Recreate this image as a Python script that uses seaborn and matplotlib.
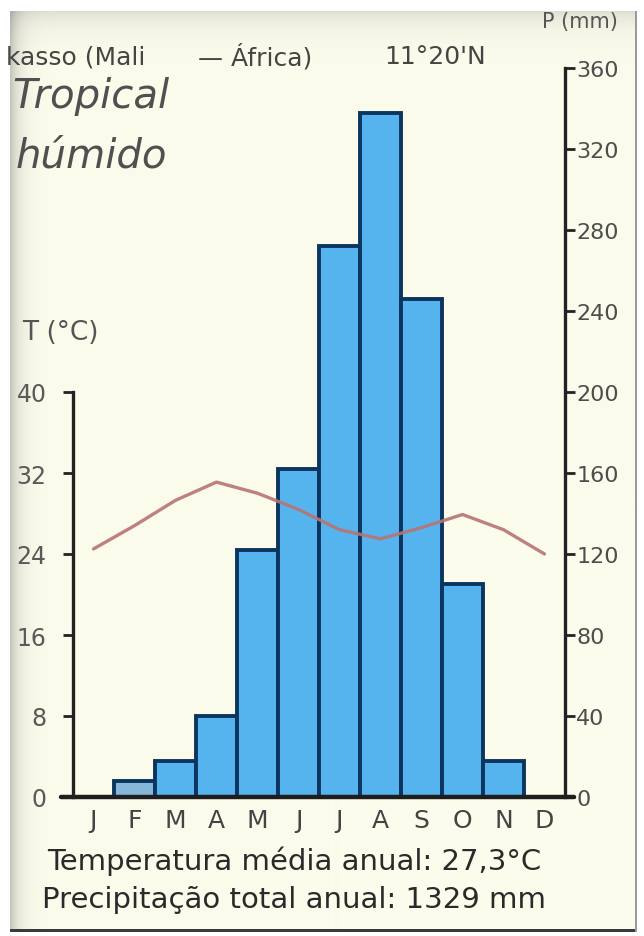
import numpy as np
import pandas as pd
import matplotlib
matplotlib.use("Agg")
import matplotlib.pyplot as plt
import matplotlib.patches as mpatches
import seaborn as sns

# ---------------- data ----------------
months = ["Jan", "Fev", "Mar", "Abr", "Mai", "Jun", "Jul", "Ago", "Set", "Out", "Nov", "Dez"]
month_letters = ["J", "F", "M", "A", "M", "J", "J", "A", "S", "O", "N", "D"]
precip_mm = [0, 8, 18, 40, 122, 162, 272, 338, 246, 105, 18, 0]
temp_c = [24.5, 26.8, 29.3, 31.1, 30.0, 28.4, 26.4, 25.5, 26.6, 27.9, 26.4, 24.0]
temp_ticks = [0, 8, 16, 24, 32, 40]
precip_ticks = [0, 40, 80, 120, 160, 200, 240, 280, 320, 360]

title_parts = ["kasso (Mali", "— África)", "11°20'N"]
climate_lines = ["Tropical", "húmido"]
footer_lines = ["Temperatura média anual: 27,3°C", "Precipitação total anual: 1329 mm"]

# ---------------- style ----------------
sns.set_theme(style="white")
plt.rcParams["font.family"] = ["DejaVu Sans"]

W, H = 644, 937
fig = plt.figure(figsize=(W / 100, H / 100), dpi=100)
fig.patch.set_facecolor("white")

# background panel (cream card with shaded edges)
bg = fig.add_axes([0, 0, 1, 1], zorder=-10)
bg.set_xlim(0, W)
bg.set_ylim(H, 0)
bg.axis("off")
px0, px1, py0, py1 = 10, 637, 12, 933
gw, gh = px1 - px0, py1 - py0
xx = np.arange(gw)[None, :]
yy = np.arange(gh)[:, None]
shade = np.clip(0.42 * np.exp(-xx / 9.0) + 0.22 * np.exp(-yy / 14.0), 0, 0.6)
base = np.array([252, 252, 236]) / 255.0
grey = np.array([120, 120, 120]) / 255.0
img = base[None, None, :] * (1 - shade[..., None]) + grey[None, None, :] * shade[..., None]
bg.imshow(img, extent=(px0, px1, py1, py0), aspect="auto", interpolation="bilinear")
bg.add_patch(mpatches.Rectangle((px0, py1 - 3), gw, 3, color="#3a3a3a", lw=0))
bg.add_patch(mpatches.Rectangle((px1 - 2, py0), 2, gh, color="#9a9a9a", lw=0))

# ---------------- main axes ----------------
left, right = 73 / W, 565 / W
base_y = 798
px_per_mm = 2.025
ymax_mm = 370
bottom = (H - base_y) / H
height = ymax_mm * px_per_mm / H
ax = fig.add_axes([left, bottom, right - left, height])
ax.patch.set_visible(False)
ax2 = ax.twinx()
ax2.patch.set_visible(False)

df = pd.DataFrame({"month": months, "precip": precip_mm})
bar_colors = ["#55b4ee"] * 12
bar_colors[1] = "#86b6d8"
sns.barplot(data=df, x="month", y="precip", hue="month", palette=bar_colors,
            legend=False, width=1.0, edgecolor="#0b355f", linewidth=2.8,
            saturation=1, ax=ax, zorder=2)
ax.set_xlim(-0.5, 11.5)
ax.set_ylim(0, ymax_mm)
ax.set_xlabel("")
ax.set_ylabel("")
for s in ["top", "left", "bottom"]:
    ax.spines[s].set_visible(False)
ax.spines["right"].set_visible(True)
ax.spines["right"].set_bounds(0, 360)
ax.spines["right"].set_linewidth(2.4)
ax.spines["right"].set_color("#222222")
ax.set_xticks(range(12))
ax.set_xticklabels(month_letters)
ax.tick_params(axis="x", length=0, labelsize=18, labelcolor="#444444", pad=8)
ax.axhline(0, xmin=-0.025, xmax=1.018, color="#1e1e1e", lw=3.2, clip_on=False, zorder=5)

# temperature line
sns.lineplot(x=np.arange(12), y=temp_c, ax=ax2, color="#b87474", linewidth=2.4,
             alpha=0.9, zorder=6)
ax2.set_xlim(-0.5, 11.5)
ax2.set_ylim(0, ymax_mm / 5.0)
for s in ["top", "right", "bottom"]:
    ax2.spines[s].set_visible(False)
ax2.spines["left"].set_visible(True)
ax2.spines["left"].set_bounds(0, 40)
ax2.spines["left"].set_linewidth(2.4)
ax2.spines["left"].set_color("#222222")
ax2.set_ylabel("")

# tick sides (set after twinx)
ax.yaxis.tick_right()
ax.set_yticks(precip_ticks)
ax.set_yticklabels([str(v) for v in precip_ticks])
ax.tick_params(axis="y", which="both", left=False, right=True, labelleft=False,
               labelright=True, direction="out", length=7, width=2,
               color="#222222", labelsize=16, labelcolor="#4d4d4d", pad=1)
ax2.yaxis.tick_left()
ax2.set_yticks(temp_ticks)
ax2.set_yticklabels([str(v) for v in temp_ticks])
ax2.tick_params(axis="y", which="both", left=True, right=False, labelleft=True,
                labelright=False, direction="out", length=7, width=2,
                color="#222222", labelsize=17, labelcolor="#5a5a5a", pad=12)

# ---------------- texts ----------------
tkw = dict(color="#454545", va="center", ha="left", fontsize=18)
bg.text(6, 57, title_parts[0], **tkw)
bg.text(198, 57, title_parts[1], **tkw)
bg.text(384, 57, title_parts[2], **tkw)

bg.text(12, 96, climate_lines[0], fontsize=29, style="italic", color="#505050",
        va="center", ha="left")
bg.text(16, 156, climate_lines[1], fontsize=29, style="italic", color="#505050",
        va="center", ha="left")

bg.text(22, 333, "T (°C)", fontsize=19, color="#555555", va="center", ha="left")
bg.text(580, 22, "P (mm)", fontsize=15, color="#555555", va="center", ha="center")

bg.text(294, 861, footer_lines[0], fontsize=21, color="#2a2a2a", va="center", ha="center")
bg.text(294, 900, footer_lines[1], fontsize=21, color="#2a2a2a", va="center", ha="center")

fig.savefig("out.png", dpi=100, facecolor=fig.get_facecolor())
